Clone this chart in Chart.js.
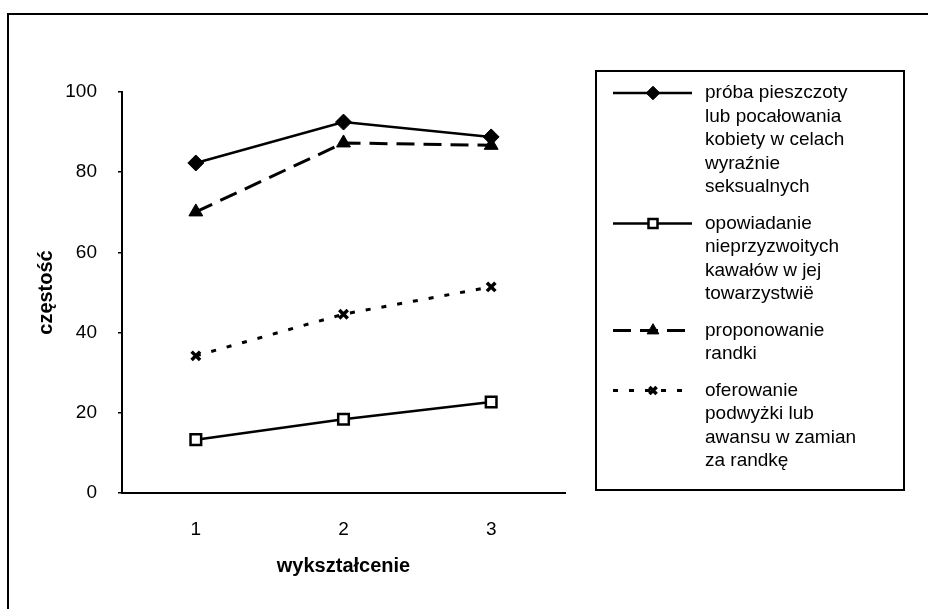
<!DOCTYPE html>
<html>
<head>
<meta charset="utf-8">
<script src="https://cdn.jsdelivr.net/npm/chart.js@4.4.1/dist/chart.umd.min.js"></script>
<style>
  html, body { margin: 0; padding: 0; background: #fff; }
  #wrap { position: relative; width: 928px; height: 609px; overflow: hidden; }
  #ramka { position: absolute; left: 7px; top: 13px; width: 940px; height: 620px; border: 2px solid #000; box-sizing: border-box; }
  #wykres { position: absolute; left: 0; top: 0; }
</style>
</head>
<body>
<div id="wrap">
  <div id="ramka"></div>
  <canvas id="wykres" width="928" height="609"></canvas>
</div>
<script>
// dane
const kategorie = ['1', '2', '3'];
const probaPieszczoty = [82.3, 92.5, 88.8];
const kawaly = [13.3, 18.4, 22.7];
const randka = [70.1, 87.3, 86.7];
const awans = [34.2, 44.6, 51.4];
const ticksY = [0, 20, 40, 60, 80, 100];

const etykiety = [
    ['próba pieszczoty', 'lub pocałowania', 'kobiety w celach', 'wyraźnie', 'seksualnych'],
    ['opowiadanie', 'nieprzyzwoitych', 'kawałów w jej', 'towarzystwië'],
    ['proponowanie', 'randki'],
    ['oferowanie', 'podwyżki lub', 'awansu w zamian', 'za randkę']
];

const rodzina = "'Liberation Sans', Arial, sans-serif";

// legenda rysowana recznie (etykiety wielowierszowe w ramce)
const legendaWykresu = {
    id: 'legendaWykresu',
    afterDraw(chart) {
        const ctx = chart.ctx;
        ctx.save();
        ctx.lineWidth = 2;
        ctx.strokeStyle = '#000';
        ctx.strokeRect(596, 71, 308, 419);
        ctx.font = '19px ' + rodzina;
        ctx.textBaseline = 'middle';
        ctx.fillStyle = '#000';

        let y = 93;
        chart.data.datasets.forEach(ds => {
            ctx.save();
            ctx.strokeStyle = '#000';
            ctx.lineWidth = ds.borderWidth;
            ctx.setLineDash(ds.borderDash || []);
            ctx.beginPath();
            ctx.moveTo(613, y);
            ctx.lineTo(692, y);
            ctx.stroke();
            ctx.restore();

            ctx.save();
            ctx.lineWidth = ds.pointBorderWidth;
            ctx.strokeStyle = ds.pointBorderColor;
            ctx.fillStyle = ds.pointBackgroundColor;
            Chart.helpers.drawPoint(ctx, {
                pointStyle: ds.pointStyle,
                radius: ds.pointRadius * 0.85,
                rotation: 0,
                borderWidth: ds.pointBorderWidth
            }, 653, y);
            ctx.restore();

            ds.linie.forEach((t, j) => ctx.fillText(t, 705, y + j * 23.5));
            y += ds.linie.length * 23.5 + 13;
        });
        ctx.restore();
    }
};

const fontTick = { family: rodzina, size: 19 };
const fontTytul = { family: rodzina, size: 20, weight: 'bold' };

new Chart(document.getElementById('wykres'), {
    type: 'line',
    data: {
        labels: kategorie,
        datasets: [
            {
                label: etykiety[0].join(' '), linie: etykiety[0], data: probaPieszczoty,
                borderColor: '#000', borderWidth: 2.5,
                pointStyle: 'rectRot', pointRadius: 8,
                pointBackgroundColor: '#000', pointBorderColor: '#000', pointBorderWidth: 1
            },
            {
                label: etykiety[1].join(' '), linie: etykiety[1], data: kawaly,
                borderColor: '#000', borderWidth: 2.5,
                pointStyle: 'rect', pointRadius: 7.5,
                pointBackgroundColor: '#fff', pointBorderColor: '#000', pointBorderWidth: 2.5
            },
            {
                label: etykiety[2].join(' '), linie: etykiety[2], data: randka,
                borderColor: '#000', borderWidth: 3, borderDash: [18, 9],
                pointStyle: 'triangle', pointRadius: 8,
                pointBackgroundColor: '#000', pointBorderColor: '#000', pointBorderWidth: 1
            },
            {
                label: etykiety[3].join(' '), linie: etykiety[3], data: awans,
                borderColor: '#000', borderWidth: 3, borderDash: [5, 11],
                pointStyle: 'crossRot', pointRadius: 6,
                pointBackgroundColor: '#000', pointBorderColor: '#000', pointBorderWidth: 3.5
            }
        ]
    },
    options: {
        responsive: false,
        animation: false,
        devicePixelRatio: 1,
        layout: { padding: { top: 92, right: 363, left: 0, bottom: 0 } },
        plugins: {
            legend: { display: false },
            tooltip: { enabled: false }
        },
        scales: {
            x: {
                offset: true,
                grid: { display: false },
                border: { color: '#000', width: 2 },
                ticks: { color: '#000', font: fontTick, padding: 17 },
                title: {
                    display: true, text: 'wykształcenie', color: '#000',
                    font: fontTytul, padding: { top: 0, bottom: 31 }
                },
                afterFit: s => { s.height = 116; }
            },
            y: {
                min: 0,
                max: 100,
                afterBuildTicks: s => { s.ticks = ticksY.map(v => ({ value: v })); },
                grid: { drawOnChartArea: false, color: '#000', tickLength: 4, lineWidth: 1.5 },
                border: { color: '#000', width: 2 },
                ticks: { color: '#000', font: fontTick, padding: 21 },
                title: {
                    display: true, text: 'częstość', color: '#000',
                    font: fontTytul, padding: { top: 34, bottom: 0 }
                },
                afterFit: s => { s.width = 122; }
            }
        }
    },
    plugins: [legendaWykresu]
});
</script>
</body>
</html>
